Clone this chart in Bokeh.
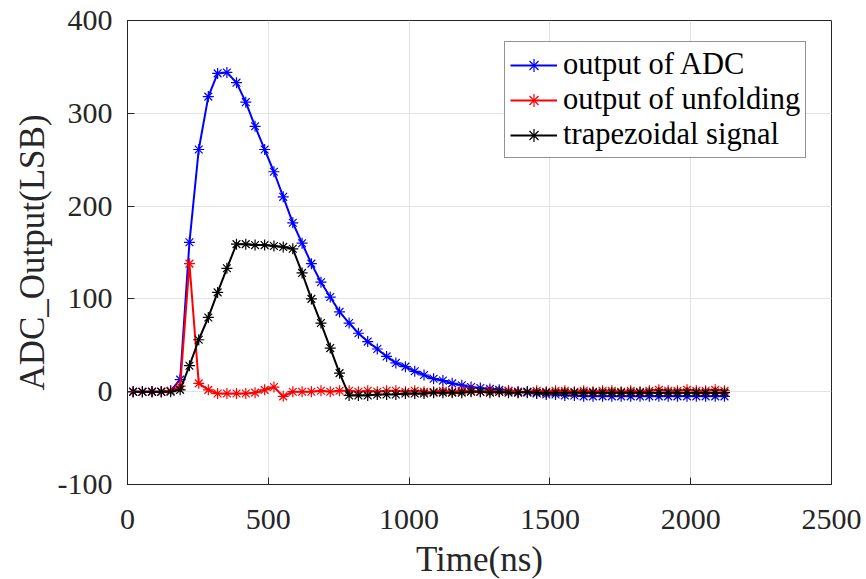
from bokeh.plotting import figure
from bokeh.models import Range1d, Legend, LegendItem, FixedTicker
from bokeh.embed import file_html
from bokeh.resources import INLINE

time_ns = [20, 53, 87, 120, 153, 187, 220, 253, 287, 320, 353, 387, 420, 453, 487, 520,
           553, 587, 620, 653, 687, 720, 753, 787, 820, 853, 887, 920, 953, 987, 1020, 1053,
           1087, 1120, 1153, 1187, 1220, 1253, 1287, 1320, 1353, 1387, 1420, 1453, 1487, 1520,
           1553, 1587, 1620, 1653, 1687, 1720, 1753, 1787, 1820, 1853, 1887, 1920, 1953, 1987,
           2020, 2053, 2087, 2120]

adc_output = [0, 0, 0, 0, 1, 13, 161, 261, 318, 343, 344, 333, 312, 286, 261, 237,
              210, 182, 160, 138, 118, 102, 86, 74, 63, 54, 46, 38, 31, 27, 22, 18,
              14, 12, 9, 7, 5, 4, 3, 2, 1, 0, -1, -2, -3, -3, -4, -4,
              -5, -5, -5, -5, -5, -5, -5, -5, -5, -5, -5, -5, -5, -5, -5, -5]

unfolding_output = [0, 0, 0, 0, 1, 6, 138, 9, 2, -2, -2, -2, -2, -1, 2, 5,
                    -5, 0, 0, 0, 1, 0, 1, 1, 0, 1, 0, 1, 1, 0, 1, 0,
                    0, 1, 0, 1, 1, 0, 1, 0, 1, 0, 0, 1, 0, 1, 1, 0,
                    1, 0, 1, 1, 0, 1, 0, 1, 2, 1, 1, 2, 1, 1, 2, 1]

trapezoidal = [0, 0, 0, 0, 0, 2, 28, 56, 80, 107, 133, 159, 159, 158, 158, 157,
               156, 154, 128, 100, 74, 47, 20, -4, -4, -4, -3, -3, -3, -2, -2, -2,
               -1, -1, -1, -1, 0, 0, -1, 0, -1, -1, 0, -1, -1, -1, -1, -1,
               -1, -1, -1, -1, -1, -1, -1, -1, -1, -1, -1, -1, -1, -1, -1, -1]

series_labels = ["output of ADC", "output of unfolding", "trapezoidal signal"]
series_colors = ["#0000ff", "#ff0000", "#000000"]
x_ticks = [0, 500, 1000, 1500, 2000, 2500]
y_ticks = [-100, 0, 100, 200, 300, 400]

FONT = "Liberation Serif"
AX = "#262626"

p = figure(frame_width=704, frame_height=464,
           x_range=Range1d(0, 2500), y_range=Range1d(-100, 400),
           output_backend="svg", toolbar_location=None,
           min_border_left=127, min_border_right=31,
           min_border_top=20, min_border_bottom=91)

p.outline_line_color = AX
p.outline_line_width = 1
p.background_fill_color = "white"

items = []
for ys, lab, col in zip([adc_output, unfolding_output, trapezoidal], series_labels, series_colors):
    r1 = p.line(time_ns, ys, line_color=col, line_width=2)
    r2 = p.scatter(time_ns, ys, marker="asterisk", size=11, line_color=col, line_width=1.2)
    items.append(LegendItem(label=lab, renderers=[r1, r2]))

for ax, ticks in ((p.xaxis[0], x_ticks), (p.yaxis[0], y_ticks)):
    ax.ticker = FixedTicker(ticks=ticks)
    ax.major_label_text_font = FONT
    ax.major_label_text_font_size = "30px"
    ax.major_label_text_color = AX
    ax.axis_label_text_font = FONT
    ax.axis_label_text_font_size = "35px"
    ax.axis_label_text_font_style = "normal"
    ax.axis_label_text_color = AX
    ax.axis_line_color = AX
    ax.major_tick_line_color = AX
    ax.major_tick_in = 7
    ax.major_tick_out = 0
    ax.minor_tick_line_color = None

p.yaxis.major_label_overrides = {-100: "-100"}
p.xaxis.axis_label = "Time(ns)"
p.yaxis.axis_label = "ADC_Output(LSB)"
p.xaxis.major_label_standoff = 25
p.xaxis.axis_label_standoff = 8
p.yaxis.major_label_standoff = 15
p.yaxis.axis_label_standoff = 3

p.xgrid.ticker = FixedTicker(ticks=x_ticks)
p.ygrid.ticker = FixedTicker(ticks=y_ticks)
p.grid.grid_line_color = "#e3e3e3"
p.grid.grid_line_width = 1

legend = Legend(items=items, location=(377, 326))
legend.label_text_font = FONT
legend.label_text_font_size = "30.5px"
legend.label_text_color = "#000000"
legend.glyph_width = 47
legend.glyph_height = 32
legend.label_height = 32
legend.spacing = 0
legend.padding = 5
legend.margin = 0
legend.label_standoff = 6
legend.border_line_color = AX
legend.border_line_width = 1
legend.background_fill_color = "white"
legend.background_fill_alpha = 1
p.add_layout(legend)

open("out.html", "w").write(file_html(p, INLINE))
